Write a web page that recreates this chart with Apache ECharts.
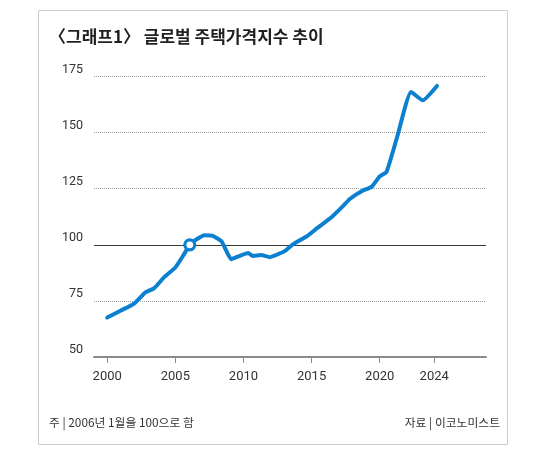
<!DOCTYPE html>
<html>
<head>
<meta charset="utf-8">
<script src="https://cdn.jsdelivr.net/npm/echarts@6/dist/echarts.min.js"></script>
<style>
  html, body { margin: 0; padding: 0; background: #fff; }
  #main { width: 550px; height: 450px; }
</style>
</head>
<body>
<div id="main"></div>
<script>
// index values (2006 Jan = 100)
var years = [2000.0, 2001.0, 2002.0, 2002.8, 2003.45, 2004.2, 2005.0, 2005.6, 2006.06, 2006.6, 2007.15, 2007.7, 2008.4, 2009.1, 2009.7, 2010.35, 2010.7, 2011.3, 2011.95, 2012.5, 2013.05, 2013.65, 2014.7, 2015.4, 2016.5, 2017.3, 2017.8, 2018.7, 2019.4, 2020.0, 2020.5, 2021.3, 2022.3, 2023.15, 2024.2];
var values = [67.6, 70.7, 73.9, 78.8, 80.7, 85.7, 89.9, 95.4, 100, 102.6, 104.3, 104.1, 101.5, 93.6, 95.0, 96.3, 95.0, 95.4, 94.5, 95.7, 97.3, 100.3, 104.0, 107.4, 112.5, 117.2, 120.4, 124.0, 125.8, 130.5, 132.5, 148.5, 168.1, 164.4, 170.8];
var baseYear = 2006.06;
var baseValue = 100;
var xTickLabels = [2000, 2005, 2010, 2015, 2020, 2024];

var blue = "#0b80d1";
var chart = echarts.init(document.getElementById("main"));

var lineData = years.map(function (y, i) { return [y, values[i]]; });

var option = {
  animation: false,
  textStyle: { fontFamily: "Roboto, 'Noto Sans CJK KR', sans-serif" },
  title: {
    text: "〈그래프1〉 글로벌 주택가격지수 추이",
    left: 44,
    top: 23,
    textStyle: {
      fontFamily: "'Noto Sans CJK KR', sans-serif",
      fontSize: 17,
      fontWeight: "bold",
      color: "#231f20"
    }
  },
  graphic: [
    {
      type: "rect",
      shape: { x: 38.5, y: 10.5, width: 469, height: 434 },
      style: { fill: "none", stroke: "#cccccc", lineWidth: 1 },
      silent: true
    },
    {
      type: "text",
      left: 49,
      top: 417,
      style: { text: "주 | 2006년 1월을 100으로 함", fontSize: 11.8, fill: "#333", fontFamily: "'Noto Sans CJK KR', sans-serif" }
    },
    {
      type: "text",
      right: 50,
      top: 417,
      style: { text: "자료 | 이코노미스트", fontSize: 11.8, fill: "#333", fontFamily: "'Noto Sans CJK KR', sans-serif" }
    }
  ],
  grid: { left: 94, right: 64, top: 76.5, bottom: 93 },
  xAxis: {
    type: "value",
    min: 1999.03,
    max: 2027.8,
    axisLine: { show: true, lineStyle: { color: "#8a8a8a", width: 2 } },
    axisTick: {
      show: true,
      customValues: xTickLabels,
      length: 6,
      lineStyle: { color: "#8a8a8a", width: 1 }
    },
    axisLabel: {
      customValues: xTickLabels,
      fontSize: 13,
      color: "#333",
      margin: 13,
      formatter: function (v) { return String(v); }
    },
    splitLine: { show: false }
  },
  yAxis: {
    type: "value",
    min: 50,
    max: 175,
    interval: 25,
    axisLine: { show: false },
    axisTick: { show: false },
    axisLabel: { fontSize: 12.5, color: "#333", margin: 11, verticalAlign: "bottom", lineHeight: 14 },
    splitLine: { lineStyle: { color: "#9a9a9a", type: "dotted", width: 1 } }
  },
  series: [
    {
      type: "line",
      data: lineData,
      showSymbol: false,
      smooth: 0.15,
      lineStyle: { color: blue, width: 4, join: "round", cap: "round" },
      markLine: {
        silent: true,
        symbol: "none",
        label: { show: false },
        lineStyle: { color: "#3a3a3a", type: "solid", width: 1.2 },
        data: [{ yAxis: 100 }],
        z: 1
      },
      z: 3
    },
    {
      type: "scatter",
      data: [[baseYear, baseValue]],
      symbol: "circle",
      symbolSize: 10,
      silent: true,
      itemStyle: { color: "#ffffff", borderColor: blue, borderWidth: 3.2, opacity: 1 },
      emphasis: { disabled: true },
      z: 4
    }
  ]
};

chart.setOption(option);
</script>
</body>
</html>
